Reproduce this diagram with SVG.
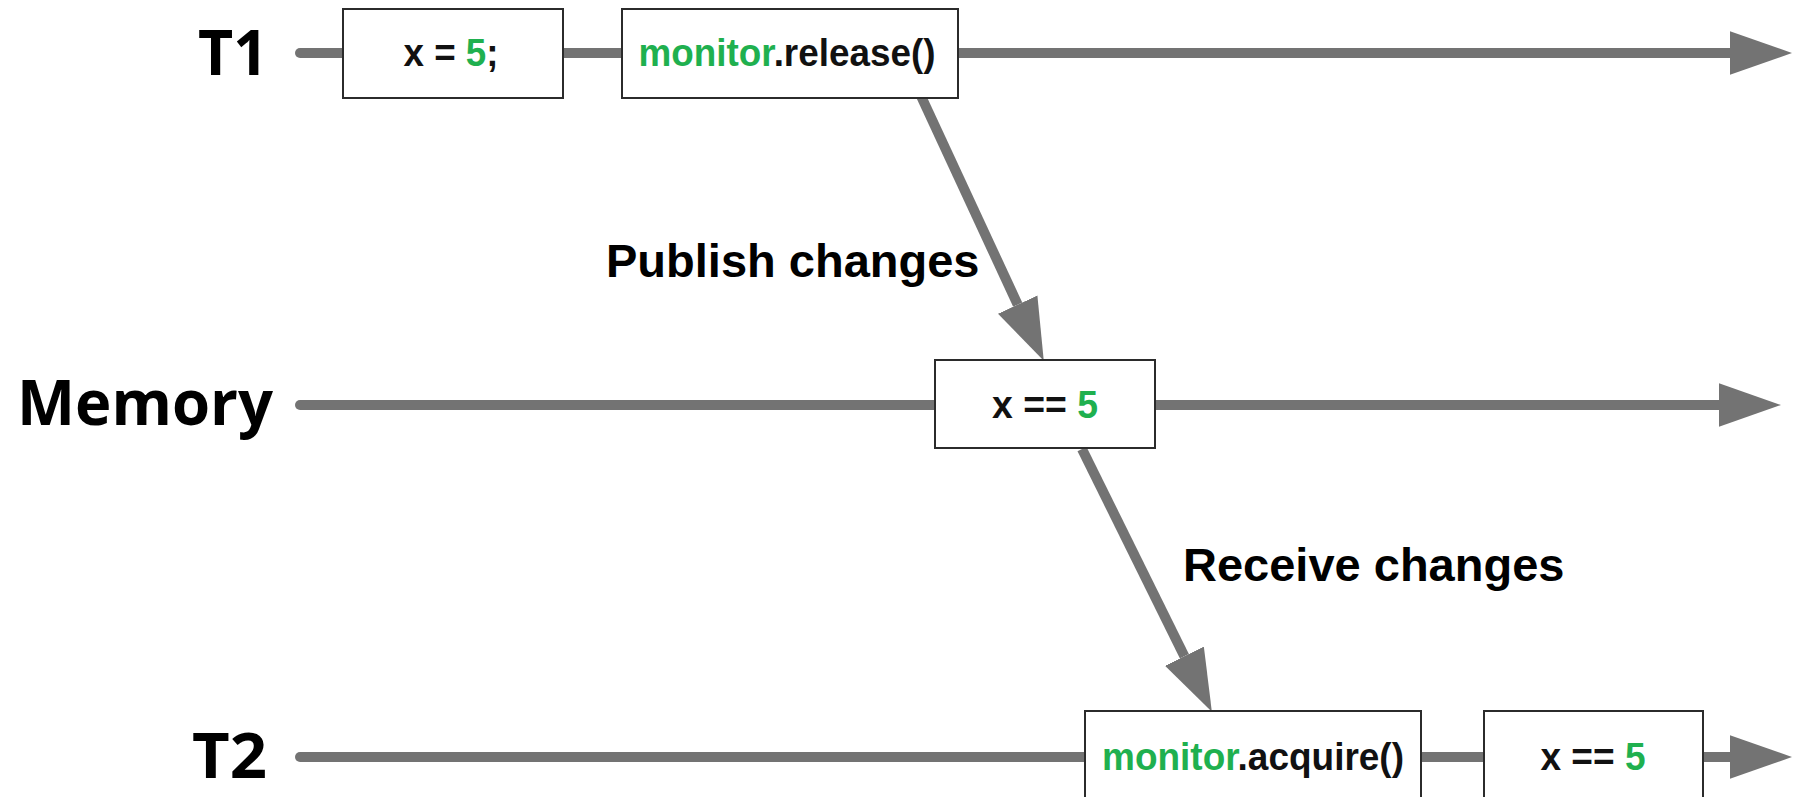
<svg xmlns="http://www.w3.org/2000/svg" width="1802" height="797" viewBox="0 0 1802 797">
  <style>
    .lane { fill: #000; font-family: "Open Sans", "Liberation Sans", sans-serif; font-weight: 700; font-size: 62px; }
    .note { fill: #000; font-family: "Liberation Sans", Arial, sans-serif; font-weight: 700; font-size: 47px; }
    .box { fill: #fff; stroke: #2b2b2b; stroke-width: 2; }
    .code { fill: #111; font-family: "Liberation Sans", Arial, sans-serif; font-weight: 700; font-size: 38px; text-anchor: middle; }
    .hl { fill: #1fb04f; }
    .wire { fill: none; stroke: #737373; stroke-width: 10; }
  </style>
  <defs>
    <!-- head starts where the shaft ends and extends 60px forward -->
    <marker id="head" markerUnits="userSpaceOnUse" markerWidth="62" markerHeight="44" viewBox="0 0 60 42" refX="0" refY="21" orient="auto">
      <path d="M0,0 L60,21 L0,42 Z" fill="#737373"/>
    </marker>
  </defs>
  <rect width="1802" height="797" fill="#fff"/>

  <!-- timelines and message arrows -->
  <g id="connectors">
    <line class="wire" x1="300" y1="53" x2="1730" y2="53" stroke-linecap="round" marker-end="url(#head)"/>
    <line class="wire" x1="300" y1="405" x2="1719" y2="405" stroke-linecap="round" marker-end="url(#head)"/>
    <line class="wire" x1="300" y1="757" x2="1730" y2="757" stroke-linecap="round" marker-end="url(#head)"/>
    <line class="wire" x1="921" y1="96" x2="1017.7" y2="304.6" marker-end="url(#head)"/>
    <line class="wire" x1="1082" y1="449" x2="1184.4" y2="656.2" marker-end="url(#head)"/>
  </g>

  <!-- lane labels -->
  <g id="label-t1"><text class="lane" x="198" y="75" textLength="70" lengthAdjust="spacingAndGlyphs">T1</text></g>
  <g id="label-memory"><text class="lane" x="17" y="425" textLength="256" lengthAdjust="spacingAndGlyphs">Memory</text></g>
  <g id="label-t2"><text class="lane" x="192" y="778" textLength="75" lengthAdjust="spacingAndGlyphs">T2</text></g>

  <!-- T1 steps -->
  <g id="t1-assign">
    <rect class="box" x="343" y="9" width="220" height="89"/>
    <text class="code" x="451" y="66" textLength="95" lengthAdjust="spacingAndGlyphs">x = <tspan class="hl">5</tspan>;</text>
  </g>
  <g id="t1-release">
    <rect class="box" x="622" y="9" width="336" height="89"/>
    <text class="code" x="787" y="66" textLength="297" lengthAdjust="spacingAndGlyphs"><tspan class="hl">monitor</tspan>.release()</text>
  </g>

  <!-- memory state -->
  <g id="memory-state">
    <rect class="box" x="935" y="360" width="220" height="88"/>
    <text class="code" x="1045" y="418" textLength="106" lengthAdjust="spacingAndGlyphs">x == <tspan class="hl">5</tspan></text>
  </g>

  <!-- T2 steps -->
  <g id="t2-acquire">
    <rect class="box" x="1085" y="711" width="336" height="92"/>
    <text class="code" x="1253" y="770" textLength="302" lengthAdjust="spacingAndGlyphs"><tspan class="hl">monitor</tspan>.acquire()</text>
  </g>
  <g id="t2-read">
    <rect class="box" x="1484" y="711" width="219" height="92"/>
    <text class="code" x="1593" y="770" textLength="105" lengthAdjust="spacingAndGlyphs">x == <tspan class="hl">5</tspan></text>
  </g>

  <!-- arrow labels -->
  <g id="label-publish"><text class="note" x="606" y="277">Publish changes</text></g>
  <g id="label-receive"><text class="note" x="1183" y="581">Receive changes</text></g>
</svg>
